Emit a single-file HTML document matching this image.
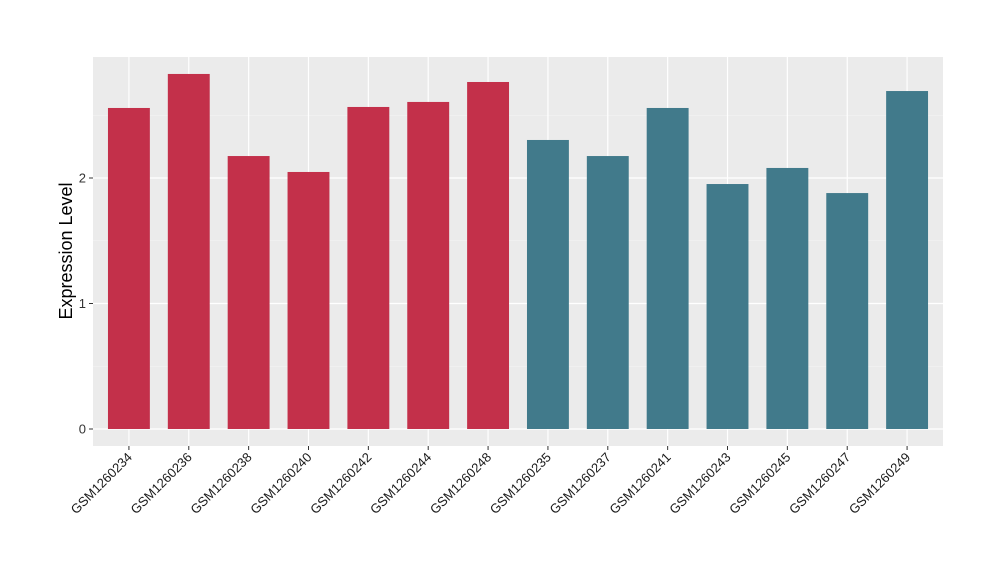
<!DOCTYPE html>
<html><head><meta charset="utf-8"><style>
body{margin:0;background:#fff;font-family:"Liberation Sans",Arial,sans-serif}
</style></head><body>
<svg id="chart" width="1000" height="580" xmlns="http://www.w3.org/2000/svg">
<rect x="93" y="57" width="850" height="389" fill="#EBEBEB"/>
<g id="grid"></g><g id="bars"></g><g id="axes"></g>
<text transform="translate(72,251) rotate(-90)" text-anchor="middle" font-size="18" fill="#000">Expression Level</text>
</svg>
<script>
const categories=["GSM1260234","GSM1260236","GSM1260238","GSM1260240","GSM1260242","GSM1260244","GSM1260248","GSM1260235","GSM1260237","GSM1260241","GSM1260243","GSM1260245","GSM1260247","GSM1260249"];
const values=[2.558,2.829,2.175,2.048,2.566,2.606,2.765,2.303,2.175,2.558,1.952,2.080,1.880,2.693];
const groups=["a","a","a","a","a","a","a","b","b","b","b","b","b","b"];
const yTicks=[0,1,2];
const yMinor=[0.5,1.5,2.5];
const colors={a:"#C3304A",b:"#417A8B"};
const NS="http://www.w3.org/2000/svg";
const x0=93,x1=943,y0=446,y1=57;
const n=categories.length;
const band=(x1-x0)/(n+0.2);
const xc=i=>x0+band*(0.6+i);
const y=v=>429-v*125.5;
function mk(tag,attrs,parent){const e=document.createElementNS(NS,tag);for(const k in attrs)e.setAttribute(k,attrs[k]);parent.appendChild(e);return e;}
const grid=document.getElementById('grid'),bars=document.getElementById('bars'),axes=document.getElementById('axes');
yMinor.forEach(v=>{const l=mk('line',{x1:x0,x2:x1,y1:y(v),y2:y(v),stroke:'#F5F5F5','stroke-width':0.6},grid);

});
yTicks.forEach(v=>{const l=mk('line',{x1:x0,x2:x1,y1:y(v),y2:y(v),stroke:'#fff','stroke-width':1.2},grid);


const t=mk('line',{x1:89,x2:93,y1:y(v),y2:y(v),stroke:'#333','stroke-width':1},axes);


const tx=mk('text',{x:86,y:y(v)+4.5,'text-anchor':'end','font-size':13,fill:'#333'},axes);
tx.textContent=v;

});
categories.forEach((c,i)=>{const cx=xc(i);
const g=mk('line',{x1:cx,x2:cx,y1:y1,y2:y0,stroke:'#fff','stroke-width':1.2},grid);


const bw=band*0.7;
const r=mk('rect',{x:cx-bw/2,y:y(values[i]),width:bw,height:y(0)-y(values[i]),fill:colors[groups[i]]},bars);


const t=mk('line',{x1:cx,x2:cx,y1:446,y2:450,stroke:'#333','stroke-width':1},axes);


const tx=mk('text',{transform:`translate(${cx+4},${458}) rotate(-45)`,'text-anchor':'end','font-size':13,fill:'#1a1a1a'},axes);
tx.textContent=c;

});
</script>
</body></html>
